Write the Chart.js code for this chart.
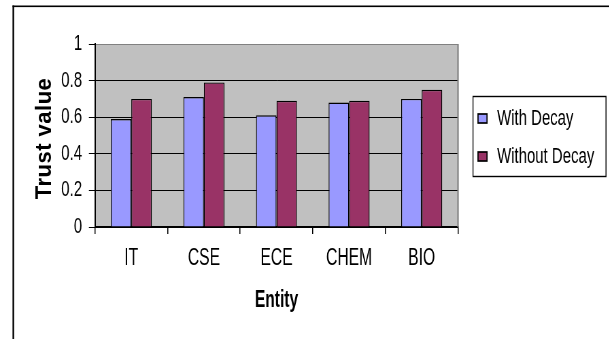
<!DOCTYPE html>
<html>
<head>
<meta charset="utf-8">
<script src="https://cdn.jsdelivr.net/npm/chart.js@4/dist/chart.umd.min.js"></script>
<style>
  html, body { margin: 0; padding: 0; background: #fff; overflow: hidden; }
  #wrap { width: 896px; height: 339px; transform: scaleX(0.68); transform-origin: 0 0; }
</style>
</head>
<body>
<div id="wrap"><canvas id="c" width="896" height="339"></canvas></div>
<script>
const categories = ['IT', 'CSE', 'ECE', 'CHEM', 'BIO'];
const seriesNames = ['With Decay', 'Without Decay'];
const withDecay = [0.59, 0.71, 0.61, 0.68, 0.70];
const withoutDecay = [0.70, 0.79, 0.69, 0.69, 0.75];
const yTickLabels = ['0', '0.2', '0.4', '0.6', '0.8', '1'];
const xTitle = 'Entity';
const yTitle = 'Trust value';

const S = 0.68; // horizontal squeeze of the whole picture
const W = 896;
const FONT = "'Liberation Sans', Arial, sans-serif";
const colors = ['#9999FF', '#993366'];

const decor = {
  id: 'decor',
  beforeDraw(chart) {
    const { ctx, chartArea: a } = chart;
    ctx.save();
    ctx.fillStyle = '#fff';
    ctx.fillRect(0, 0, chart.width, chart.height);
    ctx.fillStyle = '#C0C0C0';
    ctx.fillRect(a.left, a.top, a.right - a.left, a.bottom - a.top);
    ctx.restore();
  },
  afterDraw(chart) {
    const { ctx, chartArea: a } = chart;
    ctx.save();
    // right border of plot area
    ctx.strokeStyle = '#808080';
    ctx.lineWidth = 2.2;
    ctx.beginPath();
    ctx.moveTo(a.right, a.top);
    ctx.lineTo(a.right, a.bottom);
    ctx.stroke();
    // outer frame (left and top edges visible)
    ctx.fillStyle = '#000';
    ctx.fillRect(12.5 / S, 5.5, chart.width, 1.6);
    ctx.fillRect(12.5 / S, 5.5, 2.4, chart.height);
    // y title
    ctx.save();
    ctx.translate(45 / S, 138.5);
    ctx.scale(1 / S, 1);
    ctx.rotate(-Math.PI / 2);
    ctx.font = 'bold 22px ' + FONT;
    ctx.letterSpacing = '0.5px';
    ctx.textAlign = 'center';
    ctx.textBaseline = 'middle';
    ctx.fillStyle = '#000';
    ctx.fillText(yTitle, 0, 0);
    ctx.restore();
    // legend
    const lx = 473 / S, ly = 96, lw = (606 - 473) / S, lh = 80;
    ctx.fillStyle = '#fff';
    ctx.fillRect(lx, ly, lw, lh);
    ctx.strokeStyle = '#000';
    ctx.lineWidth = 1.4;
    ctx.strokeRect(lx, ly + 0.5, lw, lh);
    const rows = [118, 156];
    ctx.font = '22px ' + FONT;
    ctx.textBaseline = 'middle';
    ctx.textAlign = 'left';
    seriesNames.forEach((name, i) => {
      const y = rows[i];
      ctx.fillStyle = colors[i];
      ctx.fillRect(478 / S, y - 4, 9 / S, 9);
      ctx.strokeStyle = '#000';
      ctx.lineWidth = 1.7;
      ctx.strokeRect(478 / S, y - 4, 9 / S, 9);
      ctx.fillStyle = '#000';
      ctx.fillText(name, 497 / S, y + 1);
    });
    ctx.restore();
  }
};

new Chart(document.getElementById('c'), {
  type: 'bar',
  data: {
    labels: categories,
    datasets: [
      { label: seriesNames[0], data: withDecay, backgroundColor: colors[0], borderColor: '#000', borderWidth: 1.4, borderSkipped: 'bottom' },
      { label: seriesNames[1], data: withoutDecay, backgroundColor: colors[1], borderColor: '#000', borderWidth: 1.4, borderSkipped: 'bottom' }
    ]
  },
  options: {
    responsive: false,
    animation: false,
    devicePixelRatio: 1,
    layout: { padding: { left: 0, top: 44, right: W - 458 / S, bottom: 25 } },
    plugins: { legend: { display: false }, tooltip: { enabled: false } },
    datasets: { bar: { categoryPercentage: 0.565, barPercentage: 1.0 } },
    scales: {
      x: {
        afterFit(s) { s.height = 87; },
        grid: { offset: true, drawOnChartArea: false, drawTicks: true, tickLength: 7, color: '#000', lineWidth: 1.5 },
        border: { display: true, color: '#000', width: 1.3 },
        ticks: { color: '#000', font: { family: FONT, size: 23 }, padding: 11 },
        title: { display: true, text: xTitle, color: '#000', font: { family: FONT, size: 23, weight: 'bold' }, padding: { top: 0, bottom: 0 } }
      },
      y: {
        min: 0, max: 1,
        afterFit(s) { s.width = 95 / S; },
        grid: {
          drawTicks: true, tickLength: 9,
          color: (c) => (c.tick && c.tick.value === 1 ? '#808080' : '#000'),
          tickColor: '#000',
          lineWidth: 1
        },
        border: { display: true, color: '#000', width: 2 },
        ticks: {
          stepSize: 0.2, color: '#000', padding: 10,
          font: { family: FONT, size: 22 },
          callback: (v, i) => yTickLabels[i]
        }
      }
    }
  },
  plugins: [decor]
});
</script>
</body>
</html>
